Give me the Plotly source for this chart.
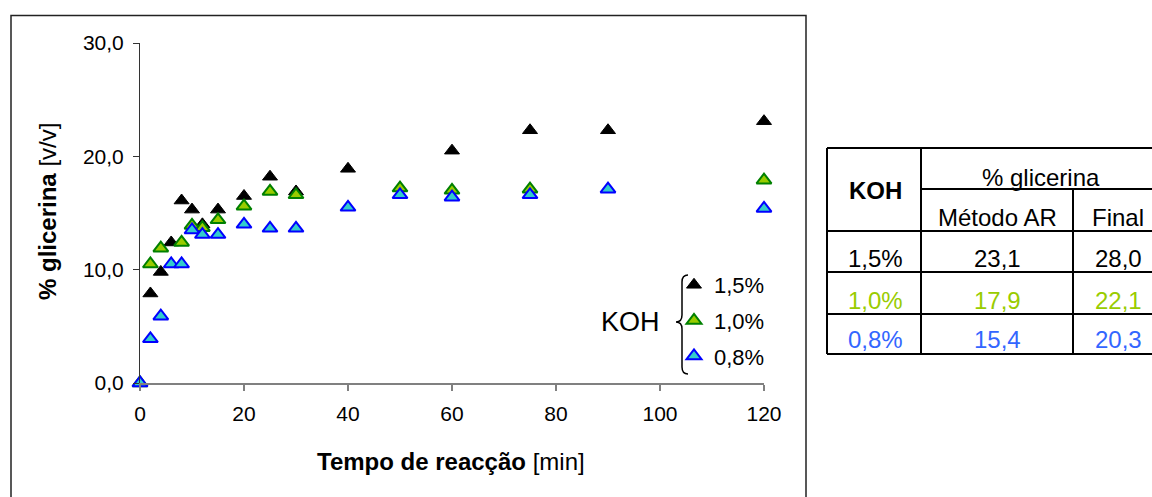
import plotly.graph_objects as go

# ---------------- data ----------------
t_15 = [0, 2, 4, 6, 8, 10, 12, 15, 20, 25, 30, 40, 60, 75, 90, 120]
g_15 = [0, 7.9, 9.8, 12.4, 16.1, 15.3, 14.0, 15.3, 16.5, 18.2, 16.9, 18.9, 20.5, 22.3, 22.3, 23.1]

t_10 = [0, 2, 4, 8, 10, 12, 15, 20, 25, 30, 50, 60, 75, 120]
g_10 = [0, 10.5, 11.9, 12.4, 13.9, 13.7, 14.4, 15.6, 16.9, 16.6, 17.2, 17.0, 17.1, 17.9]

t_08 = [0, 2, 4, 6, 8, 10, 12, 15, 20, 25, 30, 40, 50, 60, 75, 90, 120]
g_08 = [0, 3.9, 5.9, 10.5, 10.5, 13.5, 13.1, 13.1, 14.0, 13.65, 13.65, 15.5, 16.6, 16.4, 16.6, 17.1, 15.4]

series_names = ["1,5%", "1,0%", "0,8%"]

x_tickvals = [0, 20, 40, 60, 80, 100, 120]
x_ticktext = ["0", "20", "40", "60", "80", "100", "120"]
y_tickvals = [0, 10, 20, 30]
y_ticktext = ["0,0", "10,0", "20,0", "30,0"]

tbl_koh = ["1,5%", "1,0%", "0,8%"]
tbl_metodo = ["23,1", "17,9", "15,4"]
tbl_final = ["28,0", "22,1", "20,3"]
tbl_colors = ["#000000", "#99cc00", "#3366ff"]

# ---------------- layout helpers ----------------
W_PX, H_PX = 1152, 497
L, R, T, B = 140, 764, 43, 383
PW, PH = R - L, B - T
FONT = "Arial, Liberation Sans, sans-serif"


def px(x):
    return (x - L) / PW


def py(y):
    return (B - y) / PH


fig = go.Figure()

styles = [
    dict(color="#000000", line=dict(color="#000000", width=1)),
    dict(color="#99cc00", line=dict(color="#008000", width=2)),
    dict(color="#33cccc", line=dict(color="#0000ff", width=2)),
]
for name, xs, ys, st, grp in zip(series_names, [t_15, t_10, t_08], [g_15, g_10, g_08], styles, ["a", "b", "c"]):
    fig.add_trace(go.Scatter(
        x=xs, y=ys, mode="markers", name=name, legendgroup=grp,
        marker=dict(symbol="triangle-up", size=13, **st),
        cliponaxis=False,
    ))

shapes = []
annotations = []

# outer chart frame
shapes.append(dict(type="rect", xref="paper", yref="paper",
                   x0=px(11), x1=px(806), y0=py(515), y1=py(15.5),
                   line=dict(color="#222222", width=1.5)))

# brace for legend
def P(x, y):
    return f"{px(x):.5f},{py(y):.5f}"

brace = (f"M{P(688,275)} Q{P(682,275)} {P(682,282)} L{P(682,315)} "
         f"Q{P(682,322)} {P(676,322)} Q{P(682,322)} {P(682,329)} "
         f"L{P(682,367)} Q{P(682,374)} {P(688,374)}")
shapes.append(dict(type="path", xref="paper", yref="paper", path=brace,
                   line=dict(color="#000000", width=1.5)))

annotations.append(dict(xref="paper", yref="paper", x=px(630), y=py(322),
                        text="KOH", showarrow=False, xanchor="center", yanchor="middle",
                        font=dict(family=FONT, size=27, color="#000000")))

# axis titles
annotations.append(dict(xref="paper", yref="paper", x=px(451), y=py(461),
                        text="<b>Tempo de reacção</b> [min]", showarrow=False,
                        xanchor="center", yanchor="middle",
                        font=dict(family=FONT, size=24, color="#000000")))
annotations.append(dict(xref="paper", yref="paper", x=px(47), y=py(212),
                        text="<b>% glicerina</b> [v/v]", showarrow=False, textangle=-90,
                        xanchor="center", yanchor="middle",
                        font=dict(family=FONT, size=24, color="#000000")))

# ---------------- table ----------------
TX0, TX1 = 827, 1170
TY0, TY1 = 148, 354
c1, c2 = 921, 1073
hsub, hhead, r1, r2 = 189, 231, 272, 314
lines = [
    (TX0, TY0, TX1, TY0), (TX0, TY1, TX1, TY1), (TX0, TY0, TX0, TY1),
    (c1, TY0, c1, TY1), (c1, hsub, TX1, hsub), (c2, hsub, c2, TY1),
    (TX0, hhead, TX1, hhead), (TX0, r1, TX1, r1), (TX0, r2, TX1, r2),
]
for x0, y0, x1, y1 in lines:
    shapes.append(dict(type="line", xref="paper", yref="paper",
                       x0=px(x0), y0=py(y0), x1=px(x1), y1=py(y1),
                       line=dict(color="#000000", width=2)))


def tbl_text(x, y, s, color="#000000", bold=False):
    annotations.append(dict(xref="paper", yref="paper", x=px(x), y=py(y),
                            text=f"<b>{s}</b>" if bold else s, showarrow=False,
                            xanchor="center", yanchor="middle",
                            font=dict(family=FONT, size=24, color=color)))


tbl_text(875, 190, "KOH", bold=True)
tbl_text(1041, 177, "% glicerina")
tbl_text(997, 217, "Método AR")
tbl_text(1118, 217, "Final")
row_y = [258, 300, 339]
for k, m, f, c, yy in zip(tbl_koh, tbl_metodo, tbl_final, tbl_colors, row_y):
    tbl_text(875, yy, k, c)
    tbl_text(997, yy, m, c)
    tbl_text(1118, yy, f, c)

fig.update_layout(
    width=W_PX, height=H_PX,
    margin=dict(l=L, r=W_PX - R, t=T, b=H_PX - B, pad=0),
    paper_bgcolor="white", plot_bgcolor="white",
    font=dict(family=FONT, size=21, color="#000000"),
    shapes=shapes, annotations=annotations,
    showlegend=True,
    legend=dict(x=px(674), y=py(264), xanchor="left", yanchor="top",
                bgcolor="rgba(0,0,0,0)", borderwidth=0,
                font=dict(family=FONT, size=22, color="#000000"),
                tracegroupgap=4, itemwidth=30),
    xaxis=dict(range=[0, 120], tickvals=x_tickvals, ticktext=x_ticktext,
               showgrid=False, zeroline=False, showline=True, linecolor="#808080", linewidth=1.5,
               ticks="outside", ticklen=6, tickcolor="#808080", tickwidth=1.5,
               ticklabelstandoff=5,
               tickfont=dict(family=FONT, size=21, color="#000000"), fixedrange=True),
    yaxis=dict(range=[0, 30], tickvals=y_tickvals, ticktext=y_ticktext,
               showgrid=False, zeroline=False, showline=True, linecolor="#333333", linewidth=1,
               ticks="outside", ticklen=6, tickcolor="#333333", tickwidth=1,
               ticklabelstandoff=5,
               tickfont=dict(family=FONT, size=21, color="#000000"), fixedrange=True),
)

fig.write_html("out.html")
